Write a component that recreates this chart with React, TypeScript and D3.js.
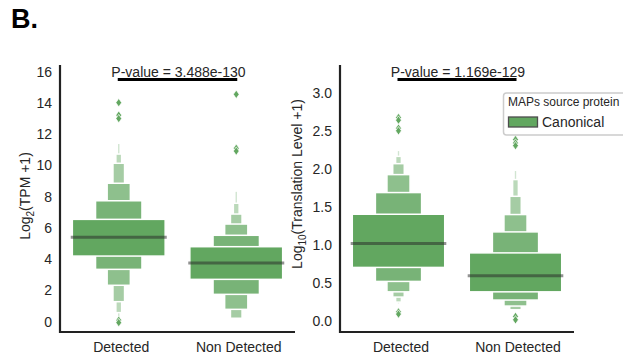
import React from "react";
import * as d3 from "d3";

// ---------- data ----------
const categories = ["Detected", "Non Detected"];

// Panel 1: Log2(TPM +1) — letter values (level 1 = IQR, outward)
const tpmMedians = [5.4, 3.76];
const tpmUpper = [
  [6.55, 7.74, 8.86, 10.14, 10.73, 11.42],
  [4.8, 5.53, 6.25, 6.89, 7.58, 8.36],
];
const tpmLower = [
  [4.2, 3.35, 2.33, 1.28, 0.58, 0.11],
  [2.71, 1.75, 0.79, 0.22, 0.22, 0.22],
];
const tpmOutliers = [
  [14.02, 13.22, 13.0, 0.1, -0.06],
  [14.55, 11.1, 10.92],
];
const tpmTicks = [0, 2, 4, 6, 8, 10, 12, 14, 16];
const tpmDomain = [-0.66, 16.43];
const tpmPValue = "P-value = 3.488e-130";

// Panel 2: Log10(Translation Level +1)
const tlMedians = [1.024, 0.598];
const tlUpper = [
  [1.408, 1.693, 1.929, 2.073, 2.169, 2.248],
  [0.9, 1.176, 1.404, 1.644, 1.864, 1.986],
];
const tlLower = [
  [0.709, 0.525, 0.388, 0.319, 0.253, 0.227],
  [0.388, 0.28, 0.201, 0.152, 0.145, 0.14],
];
const tlOutliers = [
  [2.68, 2.645, 2.54, 2.505, 0.125, 0.095],
  [2.39, 2.345, 2.31, 0.065, 0.02],
];
const tlTicks = [0, 0.5, 1.0, 1.5, 2.0, 2.5, 3.0];
const tlDomain = [-0.14, 3.37];
const tlPValue = "P-value = 1.169e-129";

const legendTitle = "MAPs source protein";
const legendLabel = "Canonical";

// ---------- style ----------
const FONT = "'Liberation Sans', Arial, Helvetica, sans-serif";
const BASE = "#62a760";
const TEXT = "#262626";
const N_LEVELS = 7;
const levelColor = (j: number) =>
  d3.interpolateRgb(BASE, "#ffffff")((0.85 * j) / (N_LEVELS - 1));

const TOP = 65;
const BOTTOM = 332;

type PanelProps = {
  x0: number;
  x1: number;
  domain: number[];
  ticks: number[];
  fmt: (v: number) => string;
  medians: number[];
  upper: number[][];
  lower: number[][];
  outliers: number[][];
  pvalue: string;
  label: React.ReactNode;
  labelX: number;
  labelY: number;
};

function Diamond({ cx, cy }: { cx: number; cy: number }) {
  const hw = 2.9;
  const hh = 4.2;
  return (
    <path
      d={`M${cx},${cy - hh}L${cx + hw},${cy}L${cx},${cy + hh}L${cx - hw},${cy}Z`}
      fill={BASE}
      stroke="#ffffff"
      strokeWidth={0.7}
    />
  );
}

function Panel(p: PanelProps) {
  const x = d3.scaleBand().domain(categories).range([p.x0, p.x1]);
  const y = d3.scaleLinear().domain(p.domain).range([BOTTOM, TOP]);
  const bw = x.bandwidth();
  const boxW = bw * 0.79;
  const c = (i: number) => (x(categories[i]) as number) + bw / 2;

  return (
    <g>
      {categories.map((cat, i) => {
        const cx = c(i);
        const n = p.upper[i].length;
        const levels = d3.range(n).reverse();
        return (
          <g key={cat}>
            {levels.map((j) => {
              const w = boxW * Math.pow(0.5, j);
              const yTop = y(p.upper[i][j]);
              const yBot = y(p.lower[i][j]);
              return (
                <rect
                  key={j}
                  x={cx - w / 2}
                  y={yTop}
                  width={w}
                  height={Math.max(0, yBot - yTop)}
                  fill={levelColor(j)}
                  stroke="#ffffff"
                  strokeWidth={1.5}
                />
              );
            })}
            <line
              x1={cx - bw * 0.4 - 1}
              x2={cx + bw * 0.4 + 1}
              y1={y(p.medians[i])}
              y2={y(p.medians[i])}
              stroke="#262626"
              strokeOpacity={0.5}
              strokeWidth={3}
            />
            {p.outliers[i].map((v, k) => (
              <Diamond key={k} cx={cx} cy={y(v)} />
            ))}
          </g>
        );
      })}

      {/* spines */}
      <line x1={p.x0} x2={p.x0} y1={TOP} y2={BOTTOM + 1} stroke="#222" strokeWidth={2.2} />
      <line x1={p.x0 - 1} x2={p.x1} y1={BOTTOM} y2={BOTTOM} stroke="#222" strokeWidth={2.2} />

      {/* y ticks */}
      {p.ticks.map((t) => (
        <text
          key={t}
          x={p.x0 - 8}
          y={y(t)}
          dy="0.36em"
          textAnchor="end"
          fontSize={14}
          fill={TEXT}
          fontFamily={FONT}
        >
          {p.fmt(t)}
        </text>
      ))}

      {/* x ticks */}
      {categories.map((cat, i) => (
        <text
          key={cat}
          x={c(i) + 2.5}
          y={352}
          textAnchor="middle"
          fontSize={14}
          fill={TEXT}
          fontFamily={FONT}
        >
          {cat}
        </text>
      ))}

      {/* y label */}
      <text
        transform={`translate(${p.labelX},${p.labelY}) rotate(-90)`}
        textAnchor="middle"
        fontSize={14}
        fill={TEXT}
        fontFamily={FONT}
      >
        {p.label}
      </text>

      {/* significance bar */}
      <line x1={c(0) - 1} x2={c(1) + 1} y1={79.5} y2={79.5} stroke="#000" strokeWidth={2.8} />
      <text
        x={(c(0) + c(1)) / 2 + 1}
        y={77}
        textAnchor="middle"
        fontSize={14}
        fill={TEXT}
        fontFamily={FONT}
      >
        {p.pvalue}
      </text>
    </g>
  );
}

export default function App() {
  return (
    <svg
      width={623}
      height={360}
      viewBox="0 0 623 360"
      style={{ position: "absolute", left: 0, top: 0, background: "#fff" }}
    >
      <rect x={0} y={0} width={623} height={360} fill="#fff" />
      <text x={11} y={28} fontSize={27} fontWeight="bold" fill="#000" fontFamily={FONT}>
        B.
      </text>

      <Panel
        x0={60}
        x1={295}
        domain={tpmDomain}
        ticks={tpmTicks}
        fmt={(v) => d3.format("d")(v)}
        medians={tpmMedians}
        upper={tpmUpper}
        lower={tpmLower}
        outliers={tpmOutliers}
        pvalue={tpmPValue}
        labelX={30}
        labelY={196}
        label={
          <>
            <tspan>Log</tspan>
            <tspan dy={4} fontSize={10}>2</tspan>
            <tspan dy={-4}>(TPM +1)</tspan>
          </>
        }
      />

      <Panel
        x0={340}
        x1={574}
        domain={tlDomain}
        ticks={tlTicks}
        fmt={(v) => d3.format(".1f")(v)}
        medians={tlMedians}
        upper={tlUpper}
        lower={tlLower}
        outliers={tlOutliers}
        pvalue={tlPValue}
        labelX={302}
        labelY={184}
        label={
          <>
            <tspan>Log</tspan>
            <tspan dy={4} fontSize={10}>10</tspan>
            <tspan dy={-4}>(Translation Level +1)</tspan>
          </>
        }
      />

      {/* legend */}
      <g>
        <rect
          x={503.5}
          y={93}
          width={140}
          height={42}
          rx={3}
          fill="#ffffff"
          fillOpacity={0.85}
          stroke="#cccccc"
          strokeWidth={1.5}
        />
        <text x={508} y={106} fontSize={12} fill={TEXT} fontFamily={FONT}>
          {legendTitle}
        </text>
        <rect x={508.5} y={117} width={29} height={10} fill={BASE} stroke="#4d4d4d" strokeWidth={1.3} />
        <text x={542} y={127} fontSize={14} fill={TEXT} fontFamily={FONT}>
          {legendLabel}
        </text>
      </g>
    </svg>
  );
}
